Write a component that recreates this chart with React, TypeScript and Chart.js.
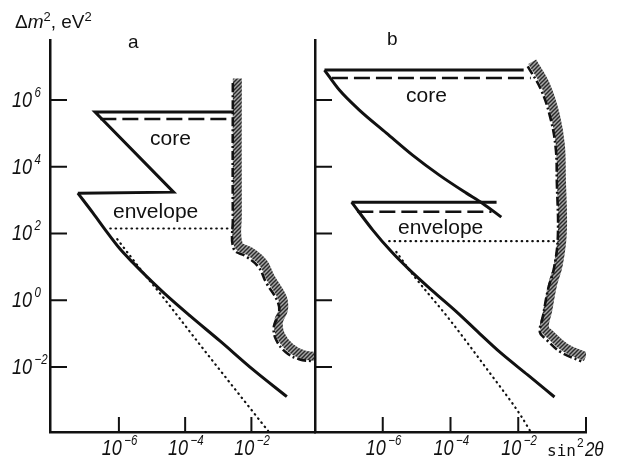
import React, { useEffect, useRef } from "react";
import { Chart, registerables } from "chart.js";

Chart.register(...registerables);

// Each point is [log10(sin^2 2θ), log10(Δm^2 / eV^2)]
type P = [number, number];

// ---------- Panel a ----------
const aOuterSolid: P[] = [[-2.53, 5.64], [-6.72, 5.64], [-4.35, 3.24], [-7.24, 3.21]];
const aEnvelopeCurve: P[] = [
  [-7.24, 3.21], [-6.78, 2.61], [-6.36, 2.04], [-5.97, 1.54], [-5.57, 1.12], [-5.15, 0.7],
  [-4.61, 0.19], [-3.85, -0.47], [-2.95, -1.22], [-1.95, -2.08], [-0.93, -2.89],
];
const aCoreDashed: P[] = [[-6.56, 5.43], [-2.53, 5.43]];
const aDottedFlat: P[] = [[-6.26, 2.15], [-2.56, 2.15]];
const aDottedSlope: P[] = [[-6.05, 1.83], [-5.35, 0.93], [-4.58, -0.02], [-3.58, -1.3], [-2.58, -2.56], [-1.47, -3.95]];
const aBoundary: P[] = [
  [-2.56, 6.51], [-2.56, 2.43], [-2.53, 1.53], [-2.17, 1.32], [-1.78, 0.99], [-1.56, 0.54],
  [-1.2, -0.06], [-1.17, -0.42], [-1.32, -0.78], [-1.26, -1.17], [-0.96, -1.56], [-0.56, -1.77], [-0.11, -1.83],
];

// ---------- Panel b ----------
const bCoreTop: P[] = [[-1.84, 6.9], [-7.72, 6.9]];
const bCoreCurve: P[] = [
  [-7.72, 6.9], [-7.28, 6.3], [-6.69, 5.7], [-5.89, 5.01], [-5.12, 4.35],
  [-4.33, 3.75], [-3.53, 3.21], [-3.06, 2.91], [-2.5, 2.49],
];
const bCoreDashed: P[] = [[-7.5, 6.66], [-1.63, 6.66]];
const bEnvTop: P[] = [[-2.64, 2.94], [-6.92, 2.94]];
const bEnvCurve: P[] = [
  [-6.92, 2.94], [-6.3, 2.11], [-5.74, 1.45], [-5.21, 0.91], [-4.53, 0.28],
  [-3.82, -0.35], [-3.14, -1.0], [-2.55, -1.55], [-1.72, -2.24], [-0.93, -2.9],
];
const bEnvDashed: P[] = [[-6.75, 2.65], [-2.79, 2.65]];
const bDottedFlat: P[] = [[-5.81, 1.77], [-0.83, 1.77]];
const bDottedSlope: P[] = [[-5.6, 1.45], [-5.12, 0.78], [-4.05, -0.55], [-2.92, -2.07], [-1.93, -3.45], [-1.63, -3.95]];
const bBoundary: P[] = [
  [-1.72, 7.01], [-1.33, 6.32], [-1.04, 5.42], [-0.89, 4.52], [-0.86, 3.53], [-0.83, 1.92],
  [-0.95, 0.93], [-1.12, 0.33], [-1.27, -0.48], [-1.36, -0.96], [-1.18, -1.17], [-0.74, -1.56], [-0.14, -1.83],
];

// ---------- Axes ----------
const yTickExps = [6, 4, 2, 0, -2];
const aXTickExps = [-6, -4, -2];
const bXTickExps = [-6, -4, -2, 0];
const xLabelExps = [-6, -4, -2];
const yRange: P = [-3.95, 7.8];
const aXRange: P = [-8.08, -0.08];
const bXRange: P = [-8, 0];

const INK = "#111";
const SANS = '"Liberation Sans", Arial, Helvetica, sans-serif';

const toPts = (arr: P[]) => arr.map(([x, y]) => ({ x: Math.pow(10, x), y: Math.pow(10, y) }));

const solid = (arr: P[], curved = false) => ({
  data: toPts(arr), borderColor: INK, borderWidth: 3, tension: curved ? 0.4 : 0,
  cubicInterpolationMode: curved ? "monotone" : "default", pointRadius: 0,
  fill: false, borderJoinStyle: "miter", borderCapStyle: "butt",
});
const dashed = (arr: P[]) => ({
  data: toPts(arr), borderColor: INK, borderWidth: 2.5, borderDash: [16, 6], pointRadius: 0, fill: false,
});
const dotted = (arr: P[], curved = false) => ({
  data: toPts(arr), borderColor: INK, borderWidth: 2.2, borderDash: [0.5, 4.8], borderCapStyle: "round",
  tension: curved ? 0.4 : 0, cubicInterpolationMode: curved ? "monotone" : "default", pointRadius: 0, fill: false,
});
const boundary = (arr: P[]) => ({
  data: toPts(arr), borderColor: INK, borderWidth: 2.6, borderDash: [9, 3, 2, 3], tension: 0.4,
  pointRadius: 0, fill: false, hatch: true,
});

function makeHatch(): CanvasPattern | string {
  const pc = document.createElement("canvas");
  pc.width = 4; pc.height = 4;
  const g = pc.getContext("2d");
  if (!g) return INK;
  g.strokeStyle = "#000"; g.lineWidth = 1.6;
  g.beginPath();
  g.moveTo(-1, 5); g.lineTo(5, -1);
  g.moveTo(-1, 1); g.lineTo(1, -1);
  g.moveTo(3, 5); g.lineTo(5, 3);
  g.stroke();
  return g.createPattern(pc, "repeat") || INK;
}

function drawPow(ctx: CanvasRenderingContext2D, exp: number, right10: number, baseline: number) {
  ctx.save();
  ctx.translate(right10, baseline);
  ctx.scale(0.82, 1);
  ctx.font = `italic 22px ${SANS}`;
  ctx.textAlign = "right";
  ctx.textBaseline = "alphabetic";
  ctx.fillText("10", 0, 0);
  ctx.font = `italic 14px ${SANS}`;
  ctx.textAlign = "left";
  const t = exp < 0 ? "\u2212" + Math.abs(exp) : String(exp);
  ctx.fillText(t, 3, -10);
  ctx.restore();
}

function drawRich(ctx: CanvasRenderingContext2D, x: number, base: number, parts: [string, string, number][]) {
  let cx = x;
  for (const [txt, font, dy] of parts) {
    ctx.font = font;
    ctx.fillText(txt, cx, base + dy);
    cx += ctx.measureText(txt).width;
  }
}

function hatchPlugin(pattern: CanvasPattern | string) {
  return {
    id: "hatchBand",
    beforeDatasetsDraw(chart: any) {
      const ctx: CanvasRenderingContext2D = chart.ctx;
      const area = chart.chartArea;
      chart.data.datasets.forEach((ds: any, i: number) => {
        if (!ds.hatch) return;
        const line = chart.getDatasetMeta(i).dataset;
        if (!line) return;
        if (line.updateControlPoints) line.updateControlPoints(area, "x");
        ctx.save();
        ctx.beginPath();
        ctx.rect(area.left + 1, area.top - 20, area.right - area.left - 1, area.bottom - area.top + 20);
        ctx.clip();
        ctx.translate(4.5, -4.5);
        ctx.beginPath();
        line.path(ctx);
        ctx.setLineDash([]);
        ctx.strokeStyle = pattern as any;
        ctx.lineWidth = 9;
        ctx.lineJoin = "round";
        ctx.lineCap = "butt";
        ctx.stroke();
        ctx.restore();
      });
    },
  };
}

function decorPlugin(panel: "a" | "b") {
  return {
    id: "decor" + panel,
    afterDraw(chart: any) {
      const ctx: CanvasRenderingContext2D = chart.ctx;
      const xs = chart.scales.x;
      const ys = chart.scales.y;
      const area = chart.chartArea;
      ctx.save();
      ctx.strokeStyle = INK;
      ctx.fillStyle = INK;
      ctx.lineWidth = 2;
      ctx.setLineDash([]);
      // inward ticks
      ctx.beginPath();
      for (const e of yTickExps) {
        const py = ys.getPixelForValue(Math.pow(10, e));
        ctx.moveTo(area.left, py);
        ctx.lineTo(area.left + 17, py);
      }
      for (const e of panel === "a" ? aXTickExps : bXTickExps) {
        const px = xs.getPixelForValue(Math.pow(10, e));
        ctx.moveTo(px, area.bottom);
        ctx.lineTo(px, area.bottom - 15);
      }
      ctx.stroke();
      // x tick labels
      for (const e of xLabelExps) {
        const px = xs.getPixelForValue(Math.pow(10, e));
        drawPow(ctx, e, px + 3, 455);
      }
      ctx.textAlign = "left";
      ctx.textBaseline = "alphabetic";
      if (panel === "a") {
        for (const e of yTickExps) {
          const py = ys.getPixelForValue(Math.pow(10, e));
          drawPow(ctx, e, 32, py + 7);
        }
        drawRich(ctx, 15, 28, [
          ["\u0394", `19px ${SANS}`, 0],
          ["m", `italic 19px ${SANS}`, 0],
          ["2", `13px ${SANS}`, -7],
          [", eV", `19px ${SANS}`, 0],
          ["2", `13px ${SANS}`, -7],
        ]);
        ctx.font = `19px ${SANS}`;
        ctx.fillText("a", 128, 48);
        ctx.font = `21px ${SANS}`;
        ctx.fillText("core", 150, 145);
        ctx.fillText("envelope", 113, 218);
      } else {
        ctx.font = `19px ${SANS}`;
        ctx.fillText("b", 387, 45);
        ctx.font = `21px ${SANS}`;
        ctx.fillText("core", 406, 102);
        ctx.fillText("envelope", 398, 234);
        // axis title sin^2 2θ
        ctx.font = `16px "DejaVu Sans Mono", "Liberation Mono", monospace`;
        ctx.fillText("sin", 547, 456);
        let cx = 547 + ctx.measureText("sin").width;
        ctx.font = `12px ${SANS}`;
        ctx.fillText("2", cx + 1, 447);
        cx += 9;
        ctx.save();
        ctx.translate(cx, 456);
        ctx.scale(0.85, 1);
        ctx.font = `italic 20px ${SANS}`;
        ctx.fillText("2\u03B8", 0, 0);
        ctx.restore();
      }
      ctx.restore();
    },
  };
}

function makeConfig(panel: "a" | "b", pattern: CanvasPattern | string): any {
  const isA = panel === "a";
  const datasets = isA
    ? [
        boundary(aBoundary),
        solid(aOuterSolid),
        solid(aEnvelopeCurve, true),
        dashed(aCoreDashed),
        dotted(aDottedFlat),
        dotted(aDottedSlope, true),
      ]
    : [
        boundary(bBoundary),
        solid(bCoreTop),
        solid(bCoreCurve, true),
        dashed(bCoreDashed),
        solid(bEnvTop),
        solid(bEnvCurve, true),
        dashed(bEnvDashed),
        dotted(bDottedFlat),
        dotted(bDottedSlope, true),
      ];
  const xr = isA ? aXRange : bXRange;
  const leftW = isA ? 50 : 315;
  const rightPad = isA ? 624 - 315 : 624 - 586;
  return {
    type: "line",
    data: { datasets },
    options: {
      animation: false,
      responsive: false,
      maintainAspectRatio: false,
      events: [],
      layout: { padding: { top: 40, right: rightPad, left: 0, bottom: 0 } },
      plugins: { legend: { display: false }, tooltip: { enabled: false }, title: { display: false } },
      scales: {
        x: {
          type: "logarithmic",
          min: Math.pow(10, xr[0]),
          max: Math.pow(10, xr[1]),
          ticks: { display: false },
          grid: { display: false, drawTicks: false },
          border: { display: true, width: 2.5, color: INK },
          afterFit: (s: any) => { s.height = 29; },
        },
        y: {
          type: "logarithmic",
          min: Math.pow(10, yRange[0]),
          max: Math.pow(10, yRange[1]),
          ticks: { display: false },
          grid: { display: false, drawTicks: false },
          border: { display: true, width: 2.5, color: INK },
          afterFit: (s: any) => { s.width = leftW; },
        },
      },
    },
    plugins: [hatchPlugin(pattern), decorPlugin(panel)],
  };
}

export default function App() {
  const refA = useRef<HTMLCanvasElement>(null);
  const refB = useRef<HTMLCanvasElement>(null);
  useEffect(() => {
    if (!refA.current || !refB.current) return;
    const pattern = makeHatch();
    const a = new Chart(refA.current, makeConfig("a", pattern));
    const b = new Chart(refB.current, makeConfig("b", pattern));
    return () => {
      a.destroy();
      b.destroy();
    };
  }, []);
  const cs: React.CSSProperties = { position: "absolute", left: 0, top: 0, width: 624, height: 461 };
  return (
    <div style={{ position: "absolute", left: 0, top: 0, width: 624, height: 461, background: "#fff" }}>
      <canvas ref={refA} width={624} height={461} style={cs} />
      <canvas ref={refB} width={624} height={461} style={cs} />
    </div>
  );
}
